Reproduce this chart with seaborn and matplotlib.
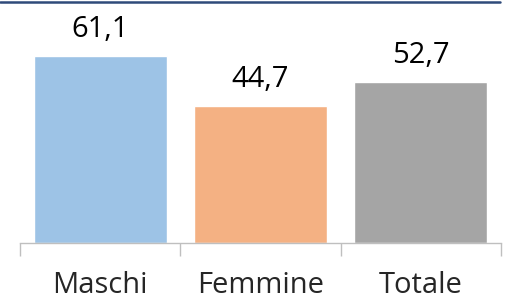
import pandas as pd
import matplotlib
matplotlib.use("Agg")
import matplotlib.pyplot as plt
import seaborn as sns
from matplotlib.lines import Line2D

# Dati
categorie = ["Maschi", "Femmine", "Totale"]
valori = [61.1, 44.7, 52.7]
colori = ["#9DC3E6", "#F4B183", "#A5A5A5"]

df = pd.DataFrame({"categoria": categorie, "valore": valori})

sns.set_style("white")
plt.rcParams['font.family'] = ['Open Sans', 'DejaVu Sans']

fig = plt.figure(figsize=(5.08, 3.04), dpi=100)
ax = fig.add_axes([20 / 508, 1 - 243 / 304, 481 / 508, 241 / 304])

sns.barplot(data=df, x="categoria", y="valore", hue="categoria",
            palette=colori, width=0.83, saturation=1, legend=False, ax=ax)

ax.set_xlim(-0.5, 2.5)
ax.set_ylim(0, 241 / 3.06)

for cont in ax.containers:
    ax.bar_label(cont, labels=[f"{v:.1f}".replace(".", ",") for v in cont.datavalues],
                 padding=8.5, fontsize=21, color="#000000")

for s in ["top", "right", "left"]:
    ax.spines[s].set_visible(False)
ax.spines["bottom"].set_color("#BFBFBF")
ax.spines["bottom"].set_linewidth(1)

ax.set_yticks([])
ax.set_xlabel("")
ax.set_ylabel("")
ax.set_xticks(range(3))
ax.set_xticklabels(categorie, fontsize=21)
ax.tick_params(axis="x", which="major", length=0, pad=20, bottom=True)
ax.set_xticks([-0.5, 0.5, 1.5, 2.5], minor=True)
ax.tick_params(axis="x", which="minor", length=9, color="#BFBFBF", width=1,
               bottom=True, direction="out")

# linea blu in alto
fig.add_artist(Line2D([0, 500 / 508], [1 - 1.5 / 304, 1 - 1.5 / 304],
                      color="#2F4A7A", linewidth=1.8, transform=fig.transFigure))

fig.savefig("out.png", dpi=100)
